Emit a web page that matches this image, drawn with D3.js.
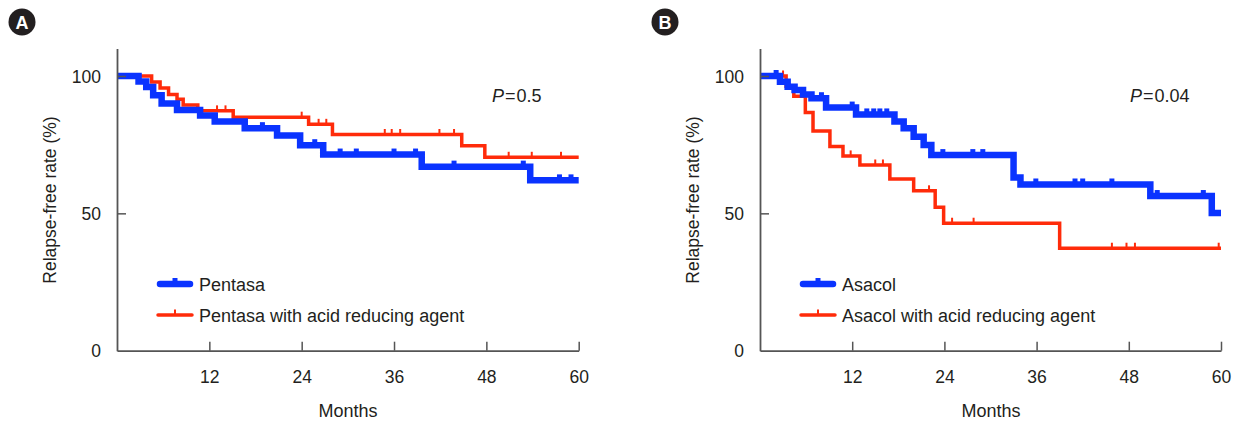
<!DOCTYPE html>
<html>
<head>
<meta charset="utf-8">
<script src="https://cdn.jsdelivr.net/npm/d3@7"></script>
<style>
  html, body { margin: 0; padding: 0; background: #fff; }
  svg { display: block; }
  text { font-family: "Liberation Sans", Arial, sans-serif; fill: #231f20; }
</style>
</head>
<body>
<svg id="chart" width="1239" height="423"></svg>
<script>
// ---------------- data ----------------
const monthTicks = [12, 24, 36, 48, 60];
const rateTicks = [0, 50, 100];

// Panel A
const pentasaTimes = [0, 2.8, 3.8, 4.7, 5.8, 7.8, 10.8, 12.7, 16.6, 20.8, 23.8, 26.8, 39.6, 53.7];
const pentasaSurv  = [100, 98.0, 96.0, 93.0, 90.0, 87.6, 85.6, 83.4, 81.0, 78.3, 74.8, 71.4, 67.0, 62.0];
const pentasaCensor = [18.9, 25.7, 29.0, 31.1, 36.0, 38.8, 43.8, 52.8, 57.5, 59.0];

const pentasaArTimes = [0, 4.5, 5.6, 6.7, 7.8, 8.6, 10.5, 15.1, 24.9, 28.0, 44.8, 47.8];
const pentasaArSurv  = [100, 97.8, 95.6, 93.3, 91.5, 89.4, 87.3, 85.0, 82.4, 78.7, 74.6, 70.4];
const pentasaArCensor = [13.0, 14.1, 24.0, 26.2, 27.2, 34.8, 35.7, 36.8, 41.9, 43.8, 50.9, 53.9, 57.7];

// Panel B
const asacolTimes = [0, 2.6, 3.6, 4.5, 5.6, 6.7, 8.6, 12.5, 17.5, 18.7, 20.0, 21.3, 22.3, 33.0, 33.9, 50.8, 58.8];
const asacolSurv  = [100, 97.9, 96.1, 94.9, 93.3, 91.9, 88.5, 86.0, 83.4, 81.0, 77.9, 74.9, 71.2, 63.0, 60.5, 56.3, 50.1];
const asacolCensor = [2.1, 8.0, 12.0, 13.9, 14.8, 15.6, 16.5, 23.8, 27.7, 29.0, 35.9, 41.0, 42.0, 45.8, 51.7, 57.7];

const asacolArTimes = [0, 3.4, 4.4, 5.9, 6.9, 9.1, 10.8, 13.0, 16.9, 20.0, 22.8, 23.9, 39.0];
const asacolArSurv  = [100, 96.3, 92.6, 86.7, 80.0, 74.3, 70.9, 67.6, 62.5, 58.2, 52.2, 46.4, 37.3];
const asacolArCensor = [3.0, 11.8, 15.0, 16.0, 22.0, 25.0, 27.8, 45.8, 47.7, 48.8, 59.7];

const panelLabels = ["A", "B"];
const pValues = ["0.5", "0.04"];
const seriesNames = [
  ["Pentasa", "Pentasa with acid reducing agent"],
  ["Asacol", "Asacol with acid reducing agent"]
];

// ---------------- styles / layout ----------------
const BLUE = "#0a33ff";
const RED = "#ff2b0a";
const AXIS = "#555555";

const svg = d3.select("#chart");

const layouts = [
  { x0: 117, x1: 578.7, off: 0 },
  { x0: 760, x1: 1221, off: 643 }
];

const panelData = [
  [
    { t: pentasaArTimes, s: pentasaArSurv, c: pentasaArCensor, color: RED, w: 3.5, thick: false },
    { t: pentasaTimes, s: pentasaSurv, c: pentasaCensor, color: BLUE, w: 6.5, thick: true }
  ],
  [
    { t: asacolArTimes, s: asacolArSurv, c: asacolArCensor, color: RED, w: 3.5, thick: false },
    { t: asacolTimes, s: asacolSurv, c: asacolCensor, color: BLUE, w: 6.5, thick: true }
  ]
];

function survAt(t, times, surv) {
  let v = surv[0];
  for (let i = 0; i < times.length; i++) if (times[i] <= t) v = surv[i];
  return v;
}

panelData.forEach((series, pi) => {
  const L = layouts[pi];
  const x = d3.scaleLinear().domain([0, 60]).range([L.x0, L.x1]);
  const y = d3.scaleLinear().domain([0, 110]).range([350.7, 48.5]);
  const g = svg.append("g");

  // circle label
  g.append("circle").attr("cx", 22 + L.off).attr("cy", 22).attr("r", 13.5).attr("fill", "#231f20");
  g.append("text").attr("x", 22 + L.off).attr("y", 28.5).attr("text-anchor", "middle")
    .style("font-size", "18px").style("font-weight", "bold").style("fill", "#fff")
    .text(panelLabels[pi]);

  // curves
  series.forEach(sr => {
    const pts = sr.t.map((t, i) => [t, sr.s[i]]);
    pts.push([60, sr.s[sr.s.length - 1]]);
    const line = d3.line().x(d => x(d[0])).y(d => y(d[1])).curve(d3.curveStepAfter);
    g.append("path").attr("d", line(pts)).attr("fill", "none")
      .attr("stroke", sr.color).attr("stroke-width", sr.w).attr("stroke-linejoin", "miter");
    g.selectAll(null).data(sr.c).enter().append("line")
      .attr("x1", d => x(d)).attr("x2", d => x(d))
      .attr("y1", d => y(survAt(d, sr.t, sr.s)) - (sr.thick ? 6 : 5.5))
      .attr("y2", d => y(survAt(d, sr.t, sr.s)))
      .attr("stroke", sr.color).attr("stroke-width", sr.thick ? 5 : 2);
  });

  // axes
  const xAxis = d3.axisBottom(x).tickValues(monthTicks).tickSizeInner(-9).tickSizeOuter(0).tickPadding(0).tickFormat(d3.format("d"));
  const gx = g.append("g").attr("transform", "translate(0,350.7)").call(xAxis);
  gx.select(".domain").attr("stroke", AXIS).attr("stroke-width", 1.8);
  gx.selectAll(".tick line").attr("stroke", AXIS).attr("stroke-width", 1.5);
  gx.selectAll(".tick text").attr("y", 32.5).attr("dy", null)
    .style("font-size", "17.5px").style("font-family", "Liberation Sans, Arial, sans-serif").attr("fill", "#231f20");

  const yAxis = d3.axisLeft(y).tickValues(rateTicks).tickSizeInner(-9).tickSizeOuter(0).tickPadding(0).tickFormat(d3.format("d"));
  const gy = g.append("g").attr("transform", `translate(${L.x0},0)`).call(yAxis);
  gy.select(".domain").attr("stroke", AXIS).attr("stroke-width", 1.8);
  gy.selectAll(".tick line").attr("stroke", AXIS).attr("stroke-width", 1.5)
    .attr("x2", d => d === 0 ? 0 : 9);
  gy.selectAll(".tick text").attr("x", -16).attr("dy", "0.35em")
    .style("font-size", "17.5px").style("font-family", "Liberation Sans, Arial, sans-serif").attr("fill", "#231f20");

  // axis titles
  g.append("text").attr("x", 348 + L.off).attr("y", 416.5).attr("text-anchor", "middle")
    .style("font-size", "18px").text("Months");
  g.append("text").attr("transform", `translate(${56 + L.off},200) rotate(-90)`).attr("text-anchor", "middle")
    .style("font-size", "17.5px").text("Relapse-free rate (%)");

  // P value
  const pt = g.append("text").attr("x", (pi === 0 ? 492 : 1130)).attr("y", 101.5).style("font-size", "18px");
  pt.append("tspan").style("font-style", "italic").text("P");
  pt.append("tspan").attr("dx", 1).text("=");
  pt.append("tspan").attr("dx", 1).text(pValues[pi]);

  // legend
  const lx = 157 + L.off;
  // blue
  g.append("line").attr("x1", lx + 3).attr("x2", lx + 33).attr("y1", 284).attr("y2", 284)
    .attr("stroke", BLUE).attr("stroke-width", 6.5).attr("stroke-linecap", "round");
  g.append("line").attr("x1", lx + 18).attr("x2", lx + 18).attr("y1", 278).attr("y2", 284)
    .attr("stroke", BLUE).attr("stroke-width", 5);
  g.append("text").attr("x", lx + 42).attr("y", 290.5).style("font-size", "18px").text(seriesNames[pi][0]);
  // red
  g.append("line").attr("x1", lx + 1).attr("x2", lx + 35).attr("y1", 315).attr("y2", 315)
    .attr("stroke", RED).attr("stroke-width", 3.5).attr("stroke-linecap", "round");
  g.append("line").attr("x1", lx + 18).attr("x2", lx + 18).attr("y1", 309.5).attr("y2", 315)
    .attr("stroke", RED).attr("stroke-width", 2);
  g.append("text").attr("x", lx + 42).attr("y", 321.5).style("font-size", "18px").text(seriesNames[pi][1]);
});
</script>
</body>
</html>
